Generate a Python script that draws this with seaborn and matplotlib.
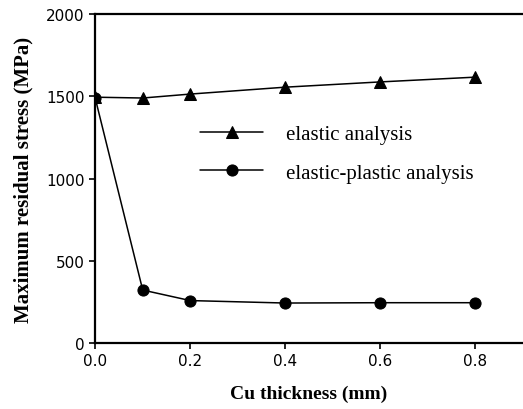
import matplotlib
matplotlib.use("Agg")
import matplotlib.pyplot as plt
import seaborn as sns
import pandas as pd

thickness = [0.0, 0.1, 0.2, 0.4, 0.6, 0.8]
elastic = [1495, 1490, 1514, 1556, 1588, 1617]
elastic_plastic = [1490, 322, 258, 243, 245, 245]
labels = ["elastic analysis", "elastic-plastic analysis"]
xticks = [0.0, 0.2, 0.4, 0.6, 0.8]
yticks = [0, 500, 1000, 1500, 2000]

sns.set_theme(style="ticks")
plt.rcParams['font.family'] = ['DejaVu Sans']
plt.rcParams['text.color'] = 'black'
plt.rcParams['axes.labelcolor'] = 'black'

df = pd.DataFrame({
    "x": thickness * 2,
    "y": elastic + elastic_plastic,
    "series": [labels[0]] * len(thickness) + [labels[1]] * len(thickness),
})

fig = plt.figure(figsize=(5.23, 4.10), dpi=100)
ax = fig.add_axes([0.182, 0.161, 0.818, 0.802])

sns.lineplot(data=df, x="x", y="y", hue="series", style="series",
             markers={labels[0]: "^", labels[1]: "o"}, dashes=False,
             palette={labels[0]: "black", labels[1]: "black"},
             markersize=8, linewidth=1.1, markeredgecolor="black", ax=ax)

ax.set_xlim(0, 0.9)
ax.set_ylim(0, 2000)
ax.set_xticks(xticks)
ax.set_xticklabels([f"{v:.1f}" for v in xticks])
ax.set_yticks(yticks)
ax.set_yticklabels([str(v) for v in yticks])
ax.tick_params(axis="both", labelsize=11, colors="black", length=4, width=1.2, direction="out")
for s in ["left", "bottom", "top"]:
    ax.spines[s].set_linewidth(1.6)
    ax.spines[s].set_color("black")
ax.spines["right"].set_visible(False)

ax.set_xlabel("Cu thickness (mm)", family="Liberation Serif", fontweight="bold", fontsize=14, labelpad=12, color="black")
ax.set_ylabel("Maximum residual stress (MPa)", family="Liberation Serif", fontweight="bold", fontsize=15, labelpad=9, color="black")

leg = ax.legend(loc="upper left", bbox_to_anchor=(0.246, 0.664), frameon=False,
                prop={"family": "Liberation Serif", "size": 15},
                handlelength=3.0, labelspacing=0.9, handletextpad=1.1,
                borderaxespad=0, borderpad=0, labelcolor="black")

fig.savefig("out.png", dpi=100)
